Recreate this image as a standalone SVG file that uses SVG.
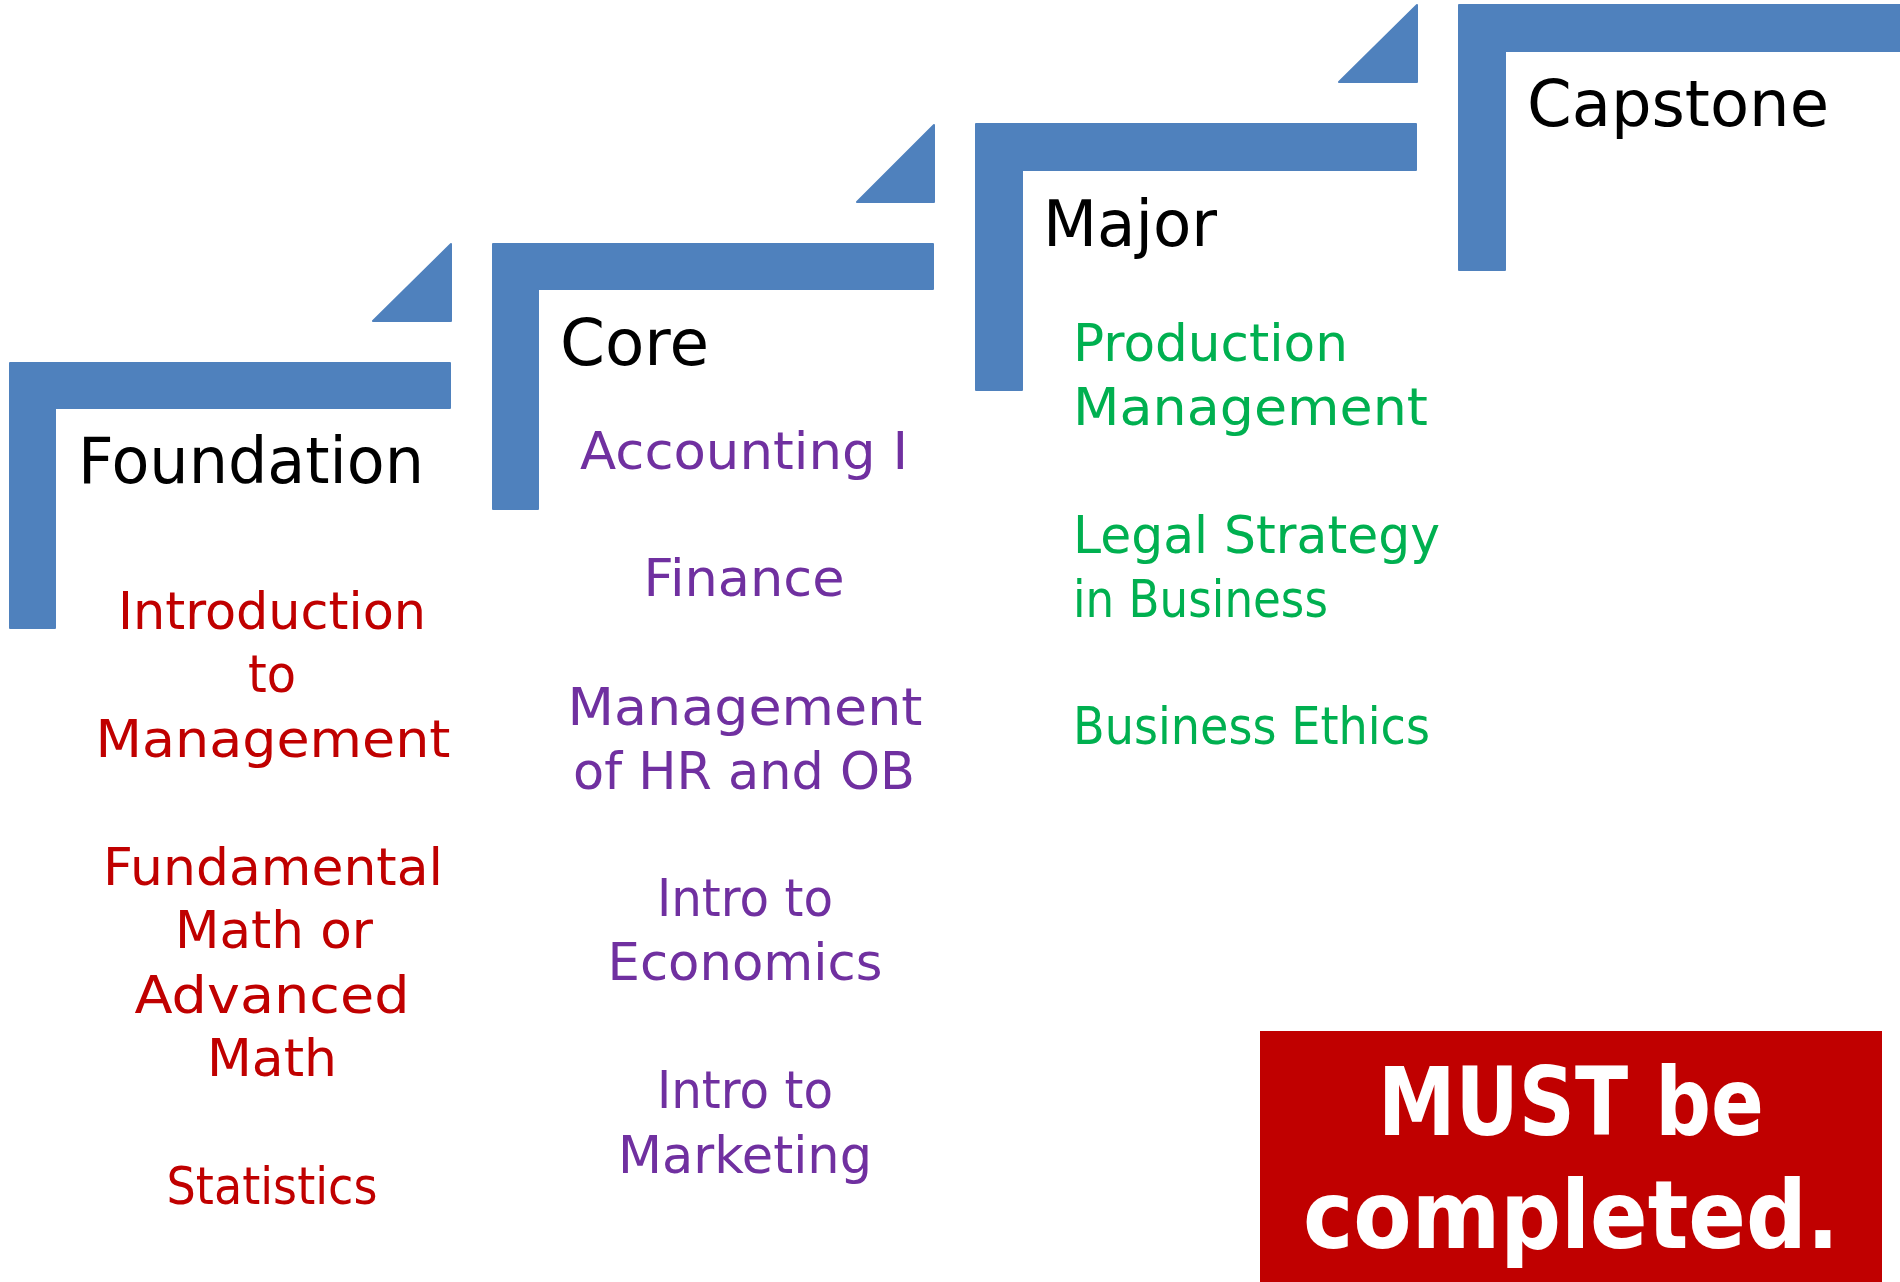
<svg xmlns="http://www.w3.org/2000/svg" width="1900" height="1282" viewBox="0 0 1900 1282">
<style>
  .bar { fill: #4F81BD; stroke: #4F81BD; stroke-width: 2; stroke-linejoin: round; }
  text { font-family: "DejaVu Sans", "Liberation Sans", sans-serif; }
  .head { font-size: 64px; fill: #000000; }
  .item { font-size: 52px; }
  .red { fill: #C00000; }
  .purple { fill: #7030A0; }
  .green { fill: #00B050; }
  .mid { text-anchor: middle; }
  .must { font-size: 95px; font-weight: bold; fill: #FFFFFF; text-anchor: middle; }
</style>
<rect width="1900" height="1282" fill="#FFFFFF"/>

<g id="step-foundation">
  <path class="bar" d="M10,363 H450 V408 H55 V628 H10 Z"/>
  <polygon class="bar" points="451,244 373,321 451,321"/>
  <text class="head" x="78" y="483" textLength="346" lengthAdjust="spacingAndGlyphs">Foundation</text>
  <g class="item red mid">
    <text x="272" y="629" textLength="308" lengthAdjust="spacingAndGlyphs">Introduction</text>
    <text x="272" y="692" textLength="48" lengthAdjust="spacingAndGlyphs">to</text>
    <text x="273" y="757" textLength="355" lengthAdjust="spacingAndGlyphs">Management</text>
    <text x="273" y="885" textLength="340" lengthAdjust="spacingAndGlyphs">Fundamental</text>
    <text x="274" y="948" textLength="198" lengthAdjust="spacingAndGlyphs">Math or</text>
    <text x="272" y="1013" textLength="275" lengthAdjust="spacingAndGlyphs">Advanced</text>
    <text x="272" y="1076" textLength="130" lengthAdjust="spacingAndGlyphs">Math</text>
    <text x="272" y="1204" textLength="211" lengthAdjust="spacingAndGlyphs">Statistics</text>
  </g>
</g>

<g id="step-core">
  <path class="bar" d="M493,244 H933 V289 H538 V509 H493 Z"/>
  <polygon class="bar" points="934,125 857,202 934,202"/>
  <text class="head" x="560" y="365" textLength="149" lengthAdjust="spacingAndGlyphs">Core</text>
  <g class="item purple mid">
    <text x="744" y="469" textLength="328" lengthAdjust="spacingAndGlyphs">Accounting I</text>
    <text x="744" y="596" textLength="201" lengthAdjust="spacingAndGlyphs">Finance</text>
    <text x="745" y="725" textLength="355" lengthAdjust="spacingAndGlyphs">Management</text>
    <text x="744" y="789" textLength="342" lengthAdjust="spacingAndGlyphs">of HR and OB</text>
    <text x="745" y="916" textLength="176" lengthAdjust="spacingAndGlyphs">Intro to</text>
    <text x="745" y="980" textLength="275" lengthAdjust="spacingAndGlyphs">Economics</text>
    <text x="745" y="1108" textLength="176" lengthAdjust="spacingAndGlyphs">Intro to</text>
    <text x="745" y="1173" textLength="254" lengthAdjust="spacingAndGlyphs">Marketing</text>
  </g>
</g>

<g id="step-major">
  <path class="bar" d="M976,124 H1416 V170 H1022 V390 H976 Z"/>
  <polygon class="bar" points="1417,5 1339,82 1417,82"/>
  <text class="head" x="1043" y="246" textLength="174" lengthAdjust="spacingAndGlyphs">Major</text>
  <g class="item green">
    <text x="1073" y="361" textLength="275" lengthAdjust="spacingAndGlyphs">Production</text>
    <text x="1073" y="425" textLength="355" lengthAdjust="spacingAndGlyphs">Management</text>
    <text x="1073" y="553" textLength="367" lengthAdjust="spacingAndGlyphs">Legal Strategy</text>
    <text x="1073" y="617" textLength="255" lengthAdjust="spacingAndGlyphs">in Business</text>
    <text x="1073" y="744" textLength="357" lengthAdjust="spacingAndGlyphs">Business Ethics</text>
  </g>
</g>

<g id="step-capstone">
  <path class="bar" d="M1459,5 H1902 V51 H1505 V270 H1459 Z"/>
  <text class="head" x="1527" y="126" textLength="302" lengthAdjust="spacingAndGlyphs">Capstone</text>
</g>

<g id="note-must">
  <rect x="1260" y="1031" width="622" height="251" fill="#C00000"/>
  <text class="must" x="1571" y="1135" textLength="386" lengthAdjust="spacingAndGlyphs">MUST be</text>
  <text class="must" x="1571" y="1248" textLength="536" lengthAdjust="spacingAndGlyphs">completed.</text>
</g>
</svg>
